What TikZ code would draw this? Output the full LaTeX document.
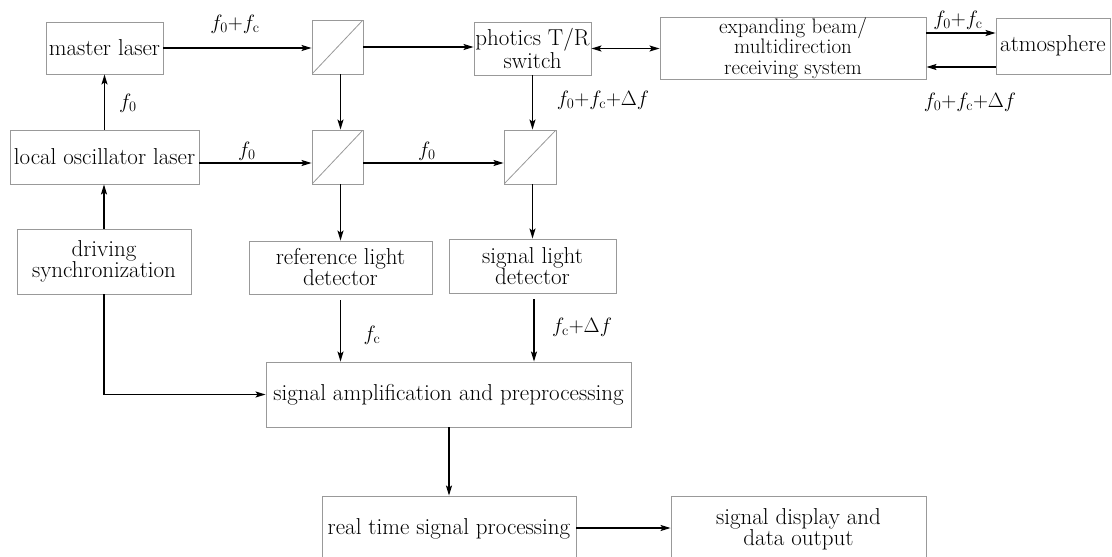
\documentclass[tikz,border=0pt]{standalone}
\usetikzlibrary{arrows.meta,calc}
\begin{document}
\begin{tikzpicture}[x=1pt,y=-1pt,
  box/.style={draw=black!40,line width=0.9pt,minimum width=#1,inner sep=0pt,align=center,font=\fontsize{23}{21}\selectfont},
  bsplit/.style={draw=black!40,line width=0.9pt,minimum width=51pt,minimum height=54pt,inner sep=0pt,
     path picture={\draw[black!40,line width=0.8pt] (path picture bounding box.south west) -- (path picture bounding box.north east);}},
  arr/.style={-{Stealth[length=10pt,width=6pt,inset=2pt]},line width=1.3pt},
  darr/.style={{Stealth[length=10pt,width=6pt,inset=2pt]}-{Stealth[length=10pt,width=6pt,inset=2pt]},line width=1.3pt},
  lbl/.style={inner sep=0pt,font=\fontsize{19.5}{21}\selectfont}]
\useasboundingbox (0,0) rectangle (1112,557);
% boxes
\node[box=117pt,minimum height=52pt] (master) at (104.5,48) {master laser};
\node[box=189pt,minimum height=54pt] (lo) at (104.5,157) {local oscillator laser};
\node[bsplit] (bs1) at (337.5,47) {};
\node[bsplit] (bs2) at (337.5,157) {};
\node[bsplit,minimum width=52pt] (bs3) at (530,157) {};
\node[box=117pt,minimum height=53pt] (trs) at (532.5,48.5) {photics T/R\\switch};
\node[box=266pt,minimum height=62pt,font=\fontsize{21}{20.5}\selectfont] (exp) at (793,48) {expanding beam/\\multidirection\\receiving system};
\node[box=114pt,minimum height=56pt] (atm) at (1053,46) {atmosphere};
\node[box=174pt,minimum height=65pt] (drv) at (104,261.5) {driving\\synchronization};
\node[box=183pt,minimum height=53pt] (ref) at (340.5,267.5) {reference light\\detector};
\node[box=167pt,minimum height=54pt] (sig) at (532.5,266) {signal light\\detector};
\node[box=365pt,minimum height=65pt] (amp) at (448.5,394.5) {signal amplification and preprocessing};
\node[box=254pt,minimum height=66pt] (rts) at (449,529) {real time signal processing};
\node[box=255pt,minimum height=66pt] (disp) at (798.5,529) {signal display and\\data output};
% connectors
\draw[arr] (master.east) -- (master.east -| bs1.west);
\draw[arr] (bs1.east) -- (bs1.east -| trs.west);
\draw[arr] (lo.north) -- (master.south);
\draw[arr] ([yshift=-6pt]lo.east) -- ([yshift=-6pt]lo.east -| bs2.west);
\draw[arr] ([yshift=-6pt]bs2.east) -- ([yshift=-6pt]bs2.east -| bs3.west);
\draw[arr] (bs1.south -| ref.north) -- (bs2.north -| ref.north);
\draw[arr] (trs.south) -- (trs.south |- bs3.north);
\draw[darr] (trs.east) -- (trs.east -| exp.west);
\draw[arr] ([yshift=15pt]exp.east) -- ([yshift=15pt]exp.east -| atm.west);
\draw[arr] ([yshift=-19pt]exp.east -| atm.west) -- ([yshift=-19pt]exp.east);
\draw[arr] (bs2.south -| ref.north) -- (ref.north);
\draw[arr] (bs3.south -| trs.south) -- (sig.north -| trs.south);
\draw[arr] (drv.north) -- (drv.north |- lo.south);
\draw[arr,shorten <=6pt] (ref.south) -- (ref.south |- amp.north);
\draw[arr,shorten <=6pt] ([xshift=1.5pt]sig.south) -- ([xshift=1.5pt]sig.south |- amp.north);
\draw[arr] (drv.south) |- (amp.west);
\draw[arr] (amp.south -| rts.north) -- (rts.north);
\draw[arr] ([yshift=1pt]rts.east) -- ([yshift=1pt]rts.east -| disp.west);
% labels
\node[lbl] (l1) at (235,24) {$f_0{+}f_\mathrm{c}$};
\node[lbl] (l2) at (128,103) {$f_0$};
\node[lbl] (l3) at (247,151) {$f_0$};
\node[lbl] (l4) at (427,151) {$f_0$};
\node[lbl] (l5) at (603,100) {$f_0{+}f_\mathrm{c}{+}\Delta f$};
\node[lbl] (l6) at (958,20) {$f_0{+}f_\mathrm{c}$};
\node[lbl] (l7) at (970,102) {$f_0{+}f_\mathrm{c}{+}\Delta f$};
\node[lbl] (l8) at (372,335) {$f_\mathrm{c}$};
\node[lbl] (l9) at (582,327) {$f_\mathrm{c}{+}\Delta f$};
\end{tikzpicture}
\end{document}
